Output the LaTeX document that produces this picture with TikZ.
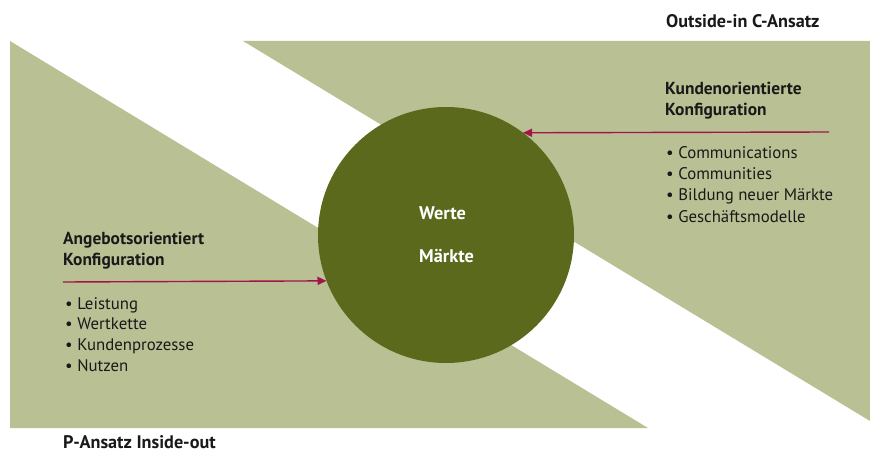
\documentclass[tikz,border=0pt]{standalone}
\usepackage{fontspec}
\setmainfont{PT Sans}
\usetikzlibrary{arrows.meta}
\definecolor{lightolive}{RGB}{185,193,148}
\definecolor{darkolive}{RGB}{90,105,27}
\definecolor{arrowred}{RGB}{163,20,75}
\definecolor{textblack}{RGB}{25,25,25}
\tikzset{
  band/.style={fill=lightolive, draw=none},
  hub/.style={circle, fill=darkolive, draw=none, minimum size=256pt, inner sep=0pt, outer sep=0pt},
  head/.style={anchor=base west, inner sep=0pt, font=\fontsize{17.4}{20}\selectfont\bfseries, text=textblack},
  title/.style={anchor=base west, inner sep=0pt, font=\fontsize{18.2}{20}\selectfont\bfseries, text=textblack},
  item/.style={anchor=base west, inner sep=0pt, font=\fontsize{16.8}{19}\selectfont, text=textblack},
  hubtext/.style={anchor=base west, inner sep=0pt, font=\fontsize{18.3}{20}\selectfont\bfseries, text=white},
  arr/.style={draw=arrowred, line width=1.4pt, -{Triangle[length=9pt,width=8pt]}}
}
\begin{document}
\begin{tikzpicture}[x=1pt,y=-1pt]
\useasboundingbox (0,0) rectangle (870,452);
% bands
\fill[band] (10,41) -- (10,428) -- (648,428) -- cycle;
\fill[band] (243,41) -- (870,41) -- (870,421) -- cycle;
% central circle
\node[hub] (circ) at (446,235) {};
\node[hubtext] (werte) at (419,219) {Werte};
\node[hubtext] (maerkte) at (419,262) {Märkte};
% titles
\node[title] (outside) at (666,28) {Outside-in C-Ansatz};
\node[title] (inside) at (63,448) {P-Ansatz Inside-out};
% right block
\node[head] (kh1) at (665,94) {Kundenorientierte};
\node[head] (kh2) at (665,115) {Konfiguration};
\node[item] (k1) at (666,158) {• Communications};
\node[item] (k2) at (666,179) {• Communities};
\node[item] (k3) at (666,200) {• Bildung neuer Märkte};
\node[item] (k4) at (666,222) {• Geschäftsmodelle};
% left block
\node[head] (ah1) at (63,244) {Angebotsorientiert};
\node[head] (ah2) at (63,265) {Konfiguration};
\node[item] (a1) at (65,309) {• Leistung};
\node[item] (a2) at (65,329) {• Wertkette};
\node[item] (a3) at (65,350) {• Kundenprozesse};
\node[item] (a4) at (65,371) {• Nutzen};
% arrows
\coordinate (aL) at (63,282);
\coordinate (aR) at (829,132);
\draw[arr] (aL) -- (circ.201.5);
\draw[arr] (aR) -- (circ.53.6);
\end{tikzpicture}
\end{document}
